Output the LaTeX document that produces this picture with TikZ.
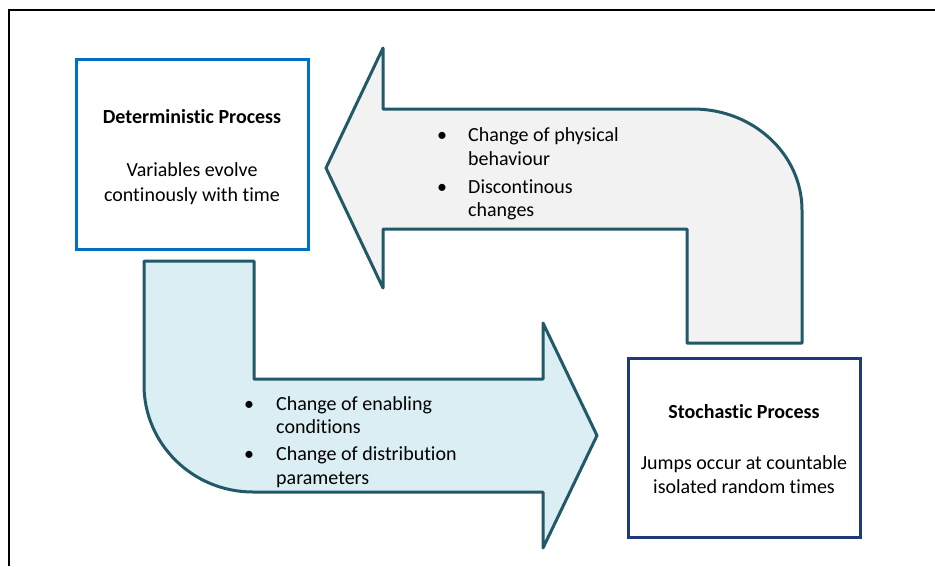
\documentclass[tikz,border=0pt]{standalone}
\usepackage{fontspec}
\setmainfont{Carlito}[Ligatures=NoCommon]
\definecolor{arrowline}{HTML}{215968}
\definecolor{greyfill}{HTML}{F2F2F2}
\definecolor{bluefill}{HTML}{DAEEF3}
\definecolor{detblue}{HTML}{0070C0}
\definecolor{stonavy}{HTML}{1F3A78}
\begin{document}
\begin{tikzpicture}[x=1pt,y=-1pt,
  procbox/.style={draw,line width=3pt,fill=white,minimum width=#1,inner sep=0pt},
  blockarrow/.style={draw=arrowline,line width=3pt,line join=round},
  txt/.style={font=\fontsize{20}{24}\selectfont,inner sep=0pt,anchor=mid},
  txtl/.style={txt,anchor=mid west},
  boldtxt/.style={txt,font=\fontsize{20}{24}\selectfont\bfseries}]
\useasboundingbox (0,0) rectangle (935,566);
\fill[white] (0,0) rectangle (935,566);
% frame
\draw[line width=2.2pt,black] (9,566) -- (9,10) -- (935,10);

% upper (grey) arrow pointing left
\draw[blockarrow,fill=greyfill] (383,48) -- (326,168) -- (383,288) -- (383,229) -- (687,229)
  -- (687,343) -- (802,343) -- (802,210)
  .. controls (802,154.2) and (753.2,109) .. (693,109) -- (383,109) -- cycle;

% lower (blue) arrow pointing right
\draw[blockarrow,fill=bluefill] (144,261) -- (254,261) -- (254,379) -- (543,379) -- (543,323)
  -- (597,435.5) -- (543,548) -- (543,492) -- (253,492)
  .. controls (192.8,492) and (144,444.1) .. (144,385) -- cycle;

% boxes
\node[procbox=232pt,draw=detblue,minimum height=190pt] (det) at (192,154) {};
\node[procbox=232pt,draw=stonavy,minimum height=179pt] (sto) at (744,447.5) {};

% box texts
\node[boldtxt] (dett) at (192,121) {Deterministic Process};
\node[txt] (det1) at (192,174) {Variables evolve};
\node[txt] (det2) at (192,199) {continously with time};

\node[boldtxt] (stot) at (744,416) {Stochastic Process};
\node[txt] (sto1) at (744,467) {Jumps occur at countable};
\node[txt] (sto2) at (744,491) {isolated random times};

% upper arrow bullets
\node[txt] (ub1) at (442,139) {•};
\node[txtl] (u1) at (468,139) {Change of physical};
\node[txtl] (u2) at (468,163) {behaviour};
\node[txt] (ub2) at (442,191) {•};
\node[txtl] (u3) at (468,191) {Discontinous};
\node[txtl] (u4) at (468,214) {changes};

% lower arrow bullets
\node[txt] (lb1) at (249,408) {•};
\node[txtl] (l1) at (276,408) {Change of enabling};
\node[txtl] (l2) at (276,431) {conditions};
\node[txt] (lb2) at (249,458) {•};
\node[txtl] (l3) at (276,458) {Change of distribution};
\node[txtl] (l4) at (276,482) {parameters};
\end{tikzpicture}
\end{document}
